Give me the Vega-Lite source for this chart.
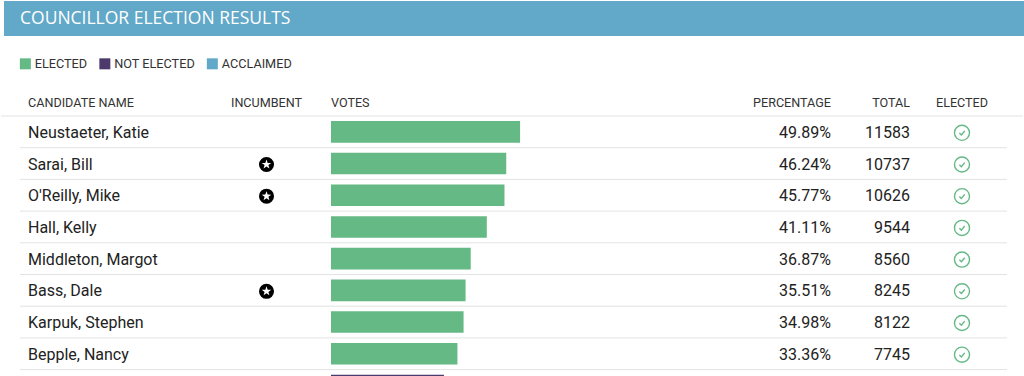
{"$schema":"https://vega.github.io/schema/vega-lite/v6.json","width":1024,"height":376,"autosize":{"type":"fit","contains":"padding"},"padding":0,"background":"#ffffff","config":{"view":{"stroke":null},"text":{"font":"Roboto"}},"datasets":{"rows":[{"candidate":"Neustaeter, Katie","incumbent":false,"pct":49.89,"pctLabel":"49.89%","total":11583,"status":"ELECTED"},{"candidate":"Sarai, Bill","incumbent":true,"pct":46.24,"pctLabel":"46.24%","total":10737,"status":"ELECTED"},{"candidate":"O'Reilly, Mike","incumbent":true,"pct":45.77,"pctLabel":"45.77%","total":10626,"status":"ELECTED"},{"candidate":"Hall, Kelly","incumbent":false,"pct":41.11,"pctLabel":"41.11%","total":9544,"status":"ELECTED"},{"candidate":"Middleton, Margot","incumbent":false,"pct":36.87,"pctLabel":"36.87%","total":8560,"status":"ELECTED"},{"candidate":"Bass, Dale","incumbent":true,"pct":35.51,"pctLabel":"35.51%","total":8245,"status":"ELECTED"},{"candidate":"Karpuk, Stephen","incumbent":false,"pct":34.98,"pctLabel":"34.98%","total":8122,"status":"ELECTED"},{"candidate":"Bepple, Nancy","incumbent":false,"pct":33.36,"pctLabel":"33.36%","total":7745,"status":"ELECTED"},{"candidate":"","incumbent":false,"pct":29.8,"pctLabel":"","total":"","status":"NOT ELECTED"}]},"data":{"name":"rows"},"layer":[{"data":{"values":[{"title":"COUNCILLOR ELECTION RESULTS"}]},"layer":[{"mark":{"type":"rect","color":"#62a8c9"},"encoding":{"x":{"datum":0,"type":"quantitative","scale":{"domain":[0,1],"range":[3,1024]},"axis":null},"x2":{"datum":1},"y":{"datum":0,"type":"quantitative","scale":{"domain":[0,1],"range":[1,36]},"axis":null},"y2":{"datum":1}}},{"mark":{"type":"text","align":"left","baseline":"middle","color":"#ffffff","fontSize":17.5,"font":"Open Sans"},"encoding":{"x":{"field":"title","type":"nominal","scale":{"type":"point","range":[19,19]},"axis":null},"y":{"datum":0.5,"type":"quantitative","axis":null},"text":{"field":"title"}}}],"resolve":{"scale":{"x":"independent"}}},{"layer":[{"mark":{"type":"rule","color":"#e3e3e3","strokeWidth":1,"clip":true},"encoding":{"x":{"datum":0,"type":"quantitative","scale":{"domain":[0,1],"range":[19,1006]},"axis":null},"x2":{"datum":1},"y":{"field":"candidate","type":"nominal","bandPosition":1,"axis":null,"scale":{"type":"band","domain":["header","Neustaeter, Katie","Sarai, Bill","O'Reilly, Mike","Hall, Kelly","Middleton, Margot","Bass, Dale","Karpuk, Stephen","Bepple, Nancy",""],"range":[84.3,401.3],"paddingInner":0,"paddingOuter":0}}}},{"data":{"values":[{"k":"header"}]},"mark":{"type":"rule","color":"#e3e3e3","strokeWidth":1},"encoding":{"x":{"datum":0,"type":"quantitative","axis":null},"x2":{"datum":1},"y":{"field":"k","type":"nominal","bandPosition":1,"axis":null}}},{"mark":{"type":"bar","height":{"band":0.68},"clip":true},"encoding":{"x":{"field":"pct","type":"quantitative","scale":{"domain":[0,100],"range":[330,709]},"axis":null},"y":{"field":"candidate","type":"nominal","axis":null},"color":{"field":"status","type":"nominal","scale":{"domain":["ELECTED","NOT ELECTED","ACCLAIMED"],"range":["#64b985","#4b3a6b","#62a8c9"]},"legend":{"title":null,"orient":"none","legendX":18,"legendY":57,"direction":"horizontal","symbolType":"square","symbolSize":121,"symbolStrokeWidth":0,"symbolOpacity":1,"labelFont":"Roboto","labelFontSize":12.7,"labelColor":"#333333","labelOffset":3,"columnPadding":10.5}}}},{"layer":[{"data":{"values":[{"h":"CANDIDATE NAME"}]},"mark":{"type":"text","align":"left","baseline":"middle","fontSize":12.6,"color":"#333333"},"encoding":{"y":{"datum":"header","type":"nominal","bandPosition":0.6,"axis":null},"text":{"field":"h"}}},{"mark":{"type":"text","align":"left","baseline":"middle","fontSize":16,"color":"#222222","clip":true},"encoding":{"y":{"field":"candidate","type":"nominal","bandPosition":0.53,"axis":null},"text":{"field":"candidate"}}}],"encoding":{"x":{"datum":"c","type":"nominal","scale":{"type":"point","range":[27,27]},"axis":null}}},{"layer":[{"data":{"values":[{"h":"INCUMBENT"}]},"mark":{"type":"text","align":"center","baseline":"middle","fontSize":12.6,"color":"#333333"},"encoding":{"y":{"datum":"header","type":"nominal","bandPosition":0.6,"axis":null},"text":{"field":"h"}}},{"transform":[{"filter":"datum.incumbent"}],"mark":{"type":"point","shape":"circle","filled":true,"color":"#000000","size":227,"opacity":1},"encoding":{"y":{"field":"candidate","type":"nominal","bandPosition":0.53,"axis":null}}},{"transform":[{"filter":"datum.incumbent"}],"mark":{"type":"point","shape":"M0,-1L0.235,-0.324L0.951,-0.309L0.38,0.124L0.588,0.809L0,0.4L-0.588,0.809L-0.38,0.124L-0.951,-0.309L-0.235,-0.324Z","filled":true,"color":"#ffffff","size":100,"opacity":1},"encoding":{"y":{"field":"candidate","type":"nominal","bandPosition":0.53,"axis":null}}}],"encoding":{"x":{"datum":"c","type":"nominal","scale":{"type":"point","range":[265.5,265.5]},"axis":null}}},{"data":{"values":[{"h":"VOTES"}]},"mark":{"type":"text","align":"left","baseline":"middle","fontSize":12.6,"color":"#333333"},"encoding":{"x":{"datum":"c","type":"nominal","scale":{"type":"point","range":[330,330]},"axis":null},"y":{"datum":"header","type":"nominal","bandPosition":0.6,"axis":null},"text":{"field":"h"}}},{"layer":[{"data":{"values":[{"h":"PERCENTAGE"}]},"mark":{"type":"text","align":"right","baseline":"middle","fontSize":12.6,"color":"#333333"},"encoding":{"y":{"datum":"header","type":"nominal","bandPosition":0.6,"axis":null},"text":{"field":"h"}}},{"mark":{"type":"text","align":"right","baseline":"middle","fontSize":16,"color":"#222222","clip":true},"encoding":{"y":{"field":"candidate","type":"nominal","bandPosition":0.53,"axis":null},"text":{"field":"pctLabel"}}}],"encoding":{"x":{"datum":"c","type":"nominal","scale":{"type":"point","range":[830,830]},"axis":null}}},{"layer":[{"data":{"values":[{"h":"TOTAL"}]},"mark":{"type":"text","align":"right","baseline":"middle","fontSize":12.6,"color":"#333333"},"encoding":{"y":{"datum":"header","type":"nominal","bandPosition":0.6,"axis":null},"text":{"field":"h"}}},{"mark":{"type":"text","align":"right","baseline":"middle","fontSize":16,"color":"#222222","clip":true},"encoding":{"y":{"field":"candidate","type":"nominal","bandPosition":0.53,"axis":null},"text":{"field":"total"}}}],"encoding":{"x":{"datum":"c","type":"nominal","scale":{"type":"point","range":[909,909]},"axis":null}}},{"layer":[{"data":{"values":[{"h":"ELECTED"}]},"mark":{"type":"text","align":"center","baseline":"middle","fontSize":12.6,"color":"#333333"},"encoding":{"y":{"datum":"header","type":"nominal","bandPosition":0.6,"axis":null},"text":{"field":"h"}}},{"transform":[{"filter":"datum.status=='ELECTED'"}],"mark":{"type":"point","shape":"circle","filled":false,"color":"#64b985","size":227,"strokeWidth":1.4,"opacity":1},"encoding":{"y":{"field":"candidate","type":"nominal","bandPosition":0.53,"axis":null}}},{"transform":[{"filter":"datum.status=='ELECTED'"}],"mark":{"type":"point","shape":"M-0.5,0.05L-0.12,0.42L0.52,-0.35","filled":false,"color":"#64b985","size":110,"strokeWidth":1.4,"opacity":1},"encoding":{"y":{"field":"candidate","type":"nominal","bandPosition":0.53,"axis":null}}}],"encoding":{"x":{"datum":"c","type":"nominal","scale":{"type":"point","range":[961,961]},"axis":null}}}],"resolve":{"scale":{"x":"independent"}}}],"resolve":{"scale":{"x":"independent","y":"independent"}}}
